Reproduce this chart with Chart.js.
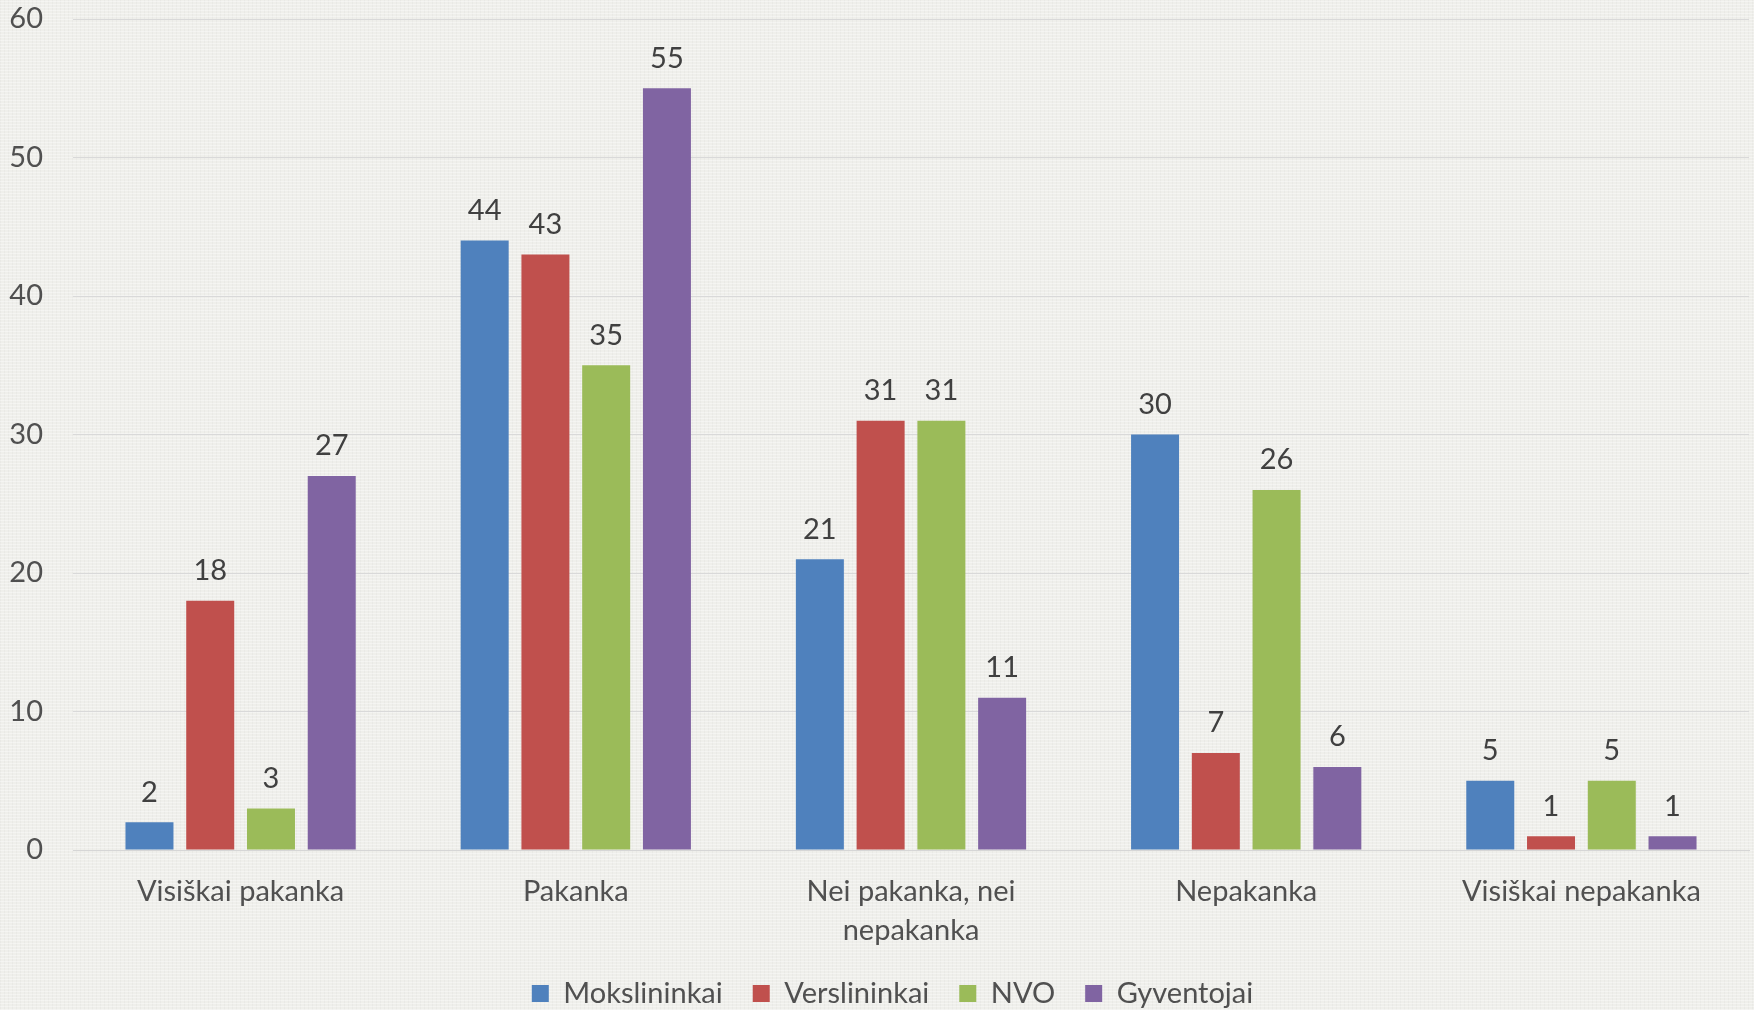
<!DOCTYPE html>
<html>
<head>
<meta charset="utf-8">
<script src="https://cdn.jsdelivr.net/npm/chart.js@4.4.0/dist/chart.umd.min.js"></script>
<style>
  html, body { margin: 0; padding: 0; }
  body {
    width: 1754px; height: 1010px; overflow: hidden;
    background-color: #efefeb;
    background-image:
      repeating-linear-gradient(0deg, rgba(255,255,255,0.35) 0px, rgba(255,255,255,0.35) 1px, rgba(0,0,0,0) 1px, rgba(0,0,0,0) 3px),
      repeating-linear-gradient(90deg, rgba(0,0,0,0.025) 0px, rgba(0,0,0,0.025) 1px, rgba(0,0,0,0) 1px, rgba(0,0,0,0) 4px);
  }
  #wrap { position: relative; width: 1754px; height: 1010px; }
</style>
</head>
<body>
<div id="wrap"><canvas id="myChart"></canvas></div>
<script>
  const labels = [
    'Visiškai pakanka',
    'Pakanka',
    ['Nei pakanka, nei', 'nepakanka'],
    'Nepakanka',
    'Visiškai nepakanka'
  ];
  const mokslininkai = [2, 44, 21, 30, 5];
  const verslininkai = [18, 43, 31, 7, 1];
  const nvo = [3, 35, 31, 26, 5];
  const gyventojai = [27, 55, 11, 6, 1];

  const fontFamily = 'Lato, "Open Sans", sans-serif';

  // skaiciai virs stulpeliu
  const valueLabels = {
    id: 'valueLabels',
    afterDatasetsDraw(chart) {
      const ctx = chart.ctx;
      ctx.save();
      ctx.font = '29px ' + fontFamily;
      ctx.fillStyle = '#404040';
      ctx.textAlign = 'center';
      ctx.textBaseline = 'middle';
      chart.data.datasets.forEach((ds, i) => {
        chart.getDatasetMeta(i).data.forEach((bar, j) => {
          ctx.fillText(ds.data[j], bar.x, bar.y - 30);
        });
      });
      ctx.restore();
    }
  };

  // legenda truputi i desine, kaip originale
  const legendShift = {
    id: 'legendShift',
    afterLayout(chart) {
      chart.legend.left += 18;
      chart.legend.right += 18;
    }
  };

  const data = {
    labels: labels,
    datasets: [
      { label: 'Mokslininkai', data: mokslininkai, backgroundColor: '#4F81BD' },
      { label: 'Verslininkai', data: verslininkai, backgroundColor: '#C0504D' },
      { label: 'NVO', data: nvo, backgroundColor: '#9BBB59' },
      { label: 'Gyventojai', data: gyventojai, backgroundColor: '#8064A2' }
    ]
  };

  const config = {
    type: 'bar',
    data: data,
    options: {
      responsive: true,
      maintainAspectRatio: false,
      animation: false,
      categoryPercentage: 0.725,
      barPercentage: 0.79,
      layout: { padding: { top: 19, right: 5, left: 0, bottom: -8 } },
      plugins: {
        legend: {
          position: 'bottom',
          labels: {
            font: { family: fontFamily, size: 29 },
            color: '#505050',
            boxWidth: 17,
            boxHeight: 17,
            padding: 30
          }
        },
        tooltip: { enabled: false }
      },
      scales: {
        x: {
          grid: { display: false },
          border: { display: true, color: '#d6d6d6' },
          ticks: {
            font: { family: fontFamily, size: 29, lineHeight: 1.345 },
            color: '#505050',
            padding: 14,
            maxRotation: 0,
            autoSkip: false
          },
          afterFit(scale) {
            scale.height = 99;
            scale.paddingLeft = 0;
            scale.paddingRight = 0;
          }
        },
        y: {
          min: 0,
          max: 60,
          ticks: {
            stepSize: 10,
            font: { family: fontFamily, size: 29 },
            color: '#505050',
            padding: 30
          },
          grid: { color: '#d9d9d9', drawTicks: false },
          border: { display: false },
          afterFit(scale) {
            scale.width = 73;
            scale.paddingTop = 0;
            scale.paddingBottom = 0;
          }
        }
      }
    },
    plugins: [valueLabels, legendShift]
  };

  var myChart = new Chart(document.getElementById('myChart'), config);
</script>
</body>
</html>
